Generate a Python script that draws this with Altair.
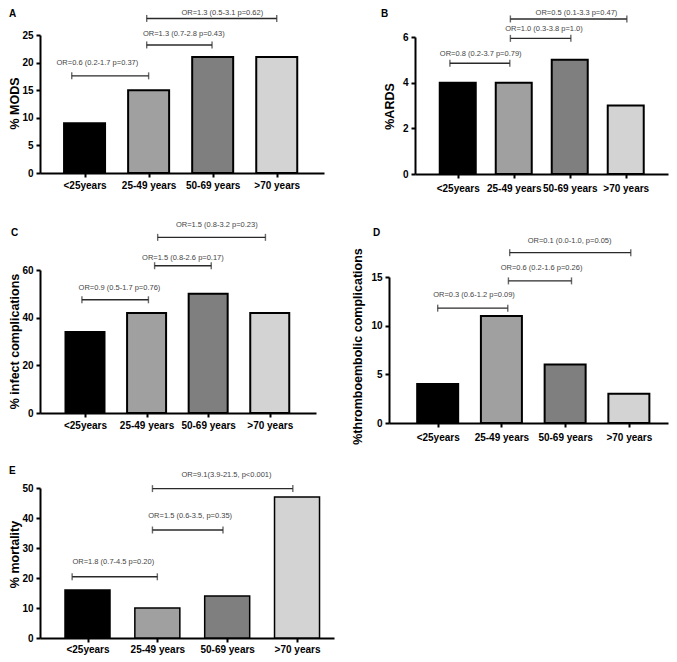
import json
import altair as alt
import pandas as pd

FONT = "Liberation Sans"

# ---------------- data ----------------
CATS = ["<25years", "25-49 years", "50-69 years", ">70 years"]
COLORS = ["#000000", "#a0a0a0", "#7f7f7f", "#d3d3d3"]

mods = [9, 15, 21, 21]
ards = [4, 4, 5, 3]
infect = [34, 42, 50, 42]
thrombo = [4, 11, 6, 3]
mortality = [16, 10, 14, 47]

# annotations: label, bracket start / end (category index units), bracket level, text x, text y
A_txt = ["OR=0.6 (0.2-1.7 p=0.37)", "OR=1.3 (0.7-2.8 p=0.43)", "OR=1.3 (0.5-3.1 p=0.62)"]
A_from = [-0.2, 0.97, 0.97]
A_to = [1.0, 1.99, 3.0]
A_lvl = [17.6, 23.2, 28.0]
A_tx = [0.2, 1.55, 2.15]
A_ty = [19.9, 25.1, 29.0]

B_txt = ["OR=0.8 (0.2-3.7 p=0.79)", "OR=1.0 (0.3-3.8 p=1.0)", "OR=0.5 (0.1-3.3 p=0.47)"]
B_from = [-0.14, 0.94, 0.94]
B_to = [0.93, 2.02, 3.02]
B_lvl = [4.85, 5.94, 6.79]
B_tx = [0.41, 1.54, 2.12]
B_ty = [5.24, 6.33, 7.05]

C_txt = ["OR=0.9 (0.5-1.7 p=0.76)", "OR=1.5 (0.8-2.6  p=0.17)", "OR=1.5 (0.8-3.2  p=0.23)"]
C_from = [-0.05, 1.13, 1.18]
C_to = [1.03, 2.05, 2.93]
C_lvl = [47.5, 61.8, 73.7]
C_tx = [0.56, 1.59, 2.14]
C_ty = [52.4, 65.1, 78.7]

D_txt = ["OR=0.3 (0.6-1.2  p=0.09)", "OR=0.6 (0.2-1.6 p=0.26)", "OR=0.1 (0.0-1.0, p=0.05)"]
D_from = [0.0, 1.11, 1.13]
D_to = [1.10, 2.10, 3.03]
D_lvl = [11.8, 14.6, 17.5]
D_tx = [0.57, 1.63, 2.07]
D_ty = [13.1, 15.9, 18.7]

E_txt = ["OR=1.8 (0.7-4.5 p=0.20)", "OR=1.5 (0.6-3.5, p=0.35)", "OR=9.1(3.9-21.5, p<0.001)"]
E_from = [-0.22, 0.93, 0.93]
E_to = [1.0, 1.94, 2.94]
E_lvl = [20.4, 36.0, 49.8]
E_tx = [0.37, 1.47, 1.99]
E_ty = [25.4, 40.7, 54.2]

# ---------------- layout (pixels, cell-local) ----------------
CELL_W, CELL_H = 280, 138
LAYOUT = {
    "A": dict(xr=[0, 284], yr=[138, 0], xoff=0, yoff=0, c0=41, step=66.4, bw=41, sw=2,
              titleX=-18.5, titleY=68, letter=(-31, -21), lp=3),
    "B": dict(xr=[26, 279], yr=[139, 2], xoff=1, yoff=-26, c0=65.3, step=58.3, bw=36, sw=2,
              titleX=-19, titleY=71, letter=(-8, -21), lp=5),
    "C": dict(xr=[0, 276], yr=[143, 0], xoff=5, yoff=0, c0=41.5, step=63.9, bw=39, sw=2,
              titleX=-18.5, titleY=71, letter=(-29, -37), lp=3),
    "D": dict(xr=[0, 279], yr=[153, 7], xoff=15, yoff=0, c0=45.3, step=66.1, bw=41, sw=2,
              titleX=-25, titleY=76, letter=(-16, -37.5), lp=5),
    "E": dict(xr=[0, 294], yr=[133, -17], xoff=-5, yoff=0, c0=44, step=72.3, bw=45, sw=1.5,
              titleX=-18.5, titleY=49, letter=(-31, -34), lp=2),
}

LABEL_EXPR = json.dumps(CATS) + "[datum.value]"


def panel(key, values, ytitle, ymax, yticks, txt, frm, to, lvl, tx, ty):
    lay = LAYOUT[key]
    xr0, xr1 = lay["xr"]
    d0 = (xr0 - lay["c0"]) / lay["step"]
    d1 = d0 + (xr1 - xr0) / lay["step"]
    xscale = alt.Scale(domain=[d0, d1], range=[xr0, xr1], nice=False, zero=False)
    yscale = alt.Scale(domain=[0, ymax], range=lay["yr"], nice=False, zero=True)

    bars_df = pd.DataFrame({"idx": list(range(len(CATS))), "cat": CATS, "value": values})
    br_df = pd.DataFrame({"x1": frm, "x2": to, "lvl": lvl})
    caps_df = pd.DataFrame({"cx": frm + to, "cy": lvl + lvl})
    tx_df = pd.DataFrame({"tx": tx, "ty": ty, "label": txt})
    let_df = pd.DataFrame({"letter": [key]})

    xaxis = alt.Axis(values=list(range(len(CATS))), labelExpr=LABEL_EXPR, title="", grid=False,
                     domainColor="black", domainWidth=2, tickColor="black", tickWidth=2, tickSize=4,
                     labelFont=FONT, labelFontSize=10, labelFontWeight="bold", labelColor="black",
                     labelPadding=lay["lp"], labelOverlap=False, labelFlush=False, offset=lay["xoff"])
    yaxis = alt.Axis(values=yticks, title=ytitle, grid=False,
                     domainColor="black", domainWidth=2, tickColor="black", tickWidth=2, tickSize=4,
                     labelFont=FONT, labelFontSize=10, labelFontWeight="bold", labelColor="black",
                     labelPadding=3, titleFont=FONT, titleFontSize=12.5, titleFontWeight="bold",
                     titleColor="black", titleX=lay["titleX"], titleY=lay["titleY"],
                     offset=lay["yoff"])

    bars = alt.Chart(bars_df).mark_bar(orient="vertical", width=lay["bw"], stroke="black",
                                       strokeWidth=lay["sw"]).encode(
        x=alt.X("idx:Q", scale=xscale, axis=xaxis),
        y=alt.Y("value:Q", scale=yscale, axis=yaxis),
        color=alt.Color("cat:N", scale=alt.Scale(domain=CATS, range=COLORS), legend=None),
    )
    rules = alt.Chart(br_df).mark_rule(color="#2a2a2a", strokeWidth=1.4).encode(
        x=alt.X("x1:Q", scale=xscale, axis=xaxis),
        x2="x2:Q",
        y=alt.Y("lvl:Q", scale=yscale, axis=yaxis),
    )
    caps = alt.Chart(caps_df).mark_tick(orient="vertical", size=7, thickness=1.4, color="#2a2a2a").encode(
        x=alt.X("cx:Q", scale=xscale, axis=xaxis),
        y=alt.Y("cy:Q", scale=yscale, axis=yaxis),
    )
    texts = alt.Chart(tx_df).mark_text(font=FONT, fontSize=7.5, color="#444444",
                                       align="center", baseline="middle").encode(
        x=alt.X("tx:Q", scale=xscale, axis=xaxis),
        y=alt.Y("ty:Q", scale=yscale, axis=yaxis),
        text="label:N",
    )
    letter = alt.Chart(let_df).mark_text(font=FONT, fontSize=10, fontWeight="bold", color="black",
                                         align="left", baseline="middle").encode(
        x=alt.value(lay["letter"][0]),
        y=alt.value(lay["letter"][1]),
        text="letter:N",
    )
    return alt.layer(bars, rules, caps, texts, letter).properties(width=CELL_W, height=CELL_H)


pA = panel("A", mods, "% MODS", 25, [0, 5, 10, 15, 20, 25], A_txt, A_from, A_to, A_lvl, A_tx, A_ty)
pB = panel("B", ards, "%ARDS", 6, [0, 2, 4, 6], B_txt, B_from, B_to, B_lvl, B_tx, B_ty)
pC = panel("C", infect, "% infect complications", 60, [0, 20, 40, 60], C_txt, C_from, C_to, C_lvl, C_tx, C_ty)
pD = panel("D", thrombo, "%thromboembolic complications", 15, [0, 5, 10, 15], D_txt, D_from, D_to, D_lvl, D_tx, D_ty)
pE = panel("E", mortality, "% mortality", 50, [0, 10, 20, 30, 40, 50], E_txt, E_from, E_to, E_lvl, E_tx, E_ty)

chart = alt.concat(pA, pB, pC, pD, pE, columns=2, spacing={"row": 97, "column": 69},
                   bounds="flush").properties(padding=0, background="white").configure_view(strokeWidth=0)

chart.save("out.html", embed_options={"renderer": "svg", "actions": False})
